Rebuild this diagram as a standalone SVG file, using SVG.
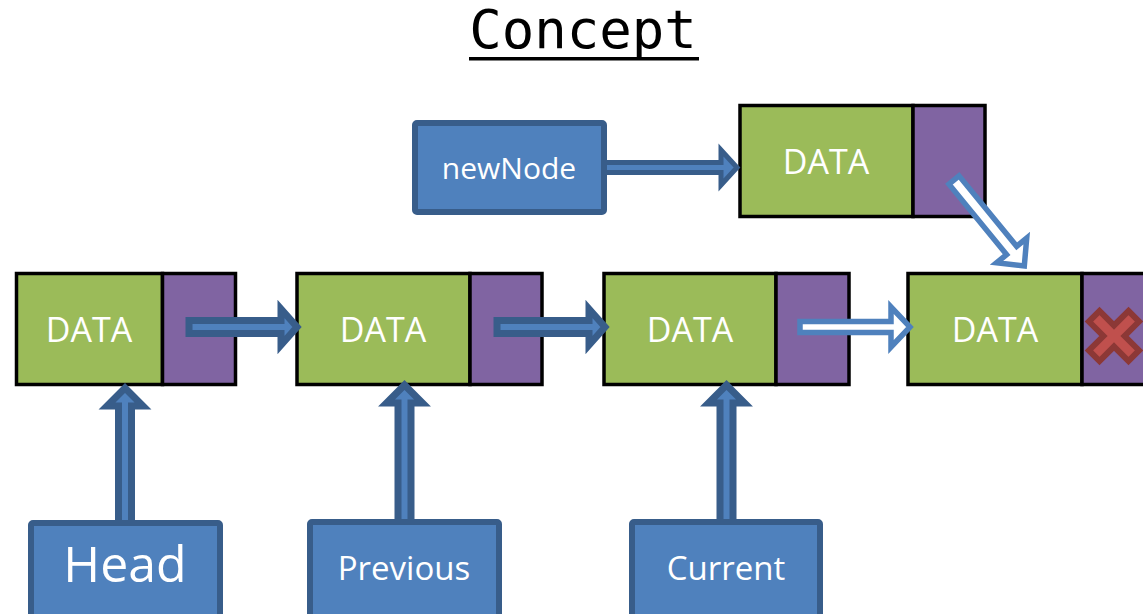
<svg xmlns="http://www.w3.org/2000/svg" width="1143" height="614" viewBox="0 0 1143 614">
<style>
.g{fill:#9BBB59;stroke:#000;stroke-width:3.5}
.p{fill:#8064A2;stroke:#000;stroke-width:3.5}
.box{fill:#4F81BD;stroke:#385D8A;stroke-width:6}
.t{font-family:"Open Sans","Liberation Sans",sans-serif;fill:#fff;text-anchor:middle}
.da{fill:#4F81BD;stroke:#385D8A;stroke-width:7;stroke-linejoin:miter;stroke-miterlimit:3}
.wa{fill:#fff;stroke:#4F81BD;stroke-width:5.5;stroke-linejoin:miter;stroke-miterlimit:3}
</style>
<rect width="1143" height="614" fill="#fff"/>
<g id="title">
<text x="583" y="48" font-family="DejaVu Sans Mono, Liberation Mono, monospace" font-size="54" text-anchor="middle" fill="#000">Concept</text>
<rect x="469" y="57" width="230" height="3.5" fill="#000"/>
</g>
<g id="node1">
<rect class="g" x="16.5" y="273.5" width="146" height="111"/>
<rect class="p" x="162.5" y="273.5" width="73" height="111"/>
<text class="t" x="89" y="342" font-size="34">DATA</text>
</g>
<g id="node2">
<rect class="g" x="297" y="273.5" width="173" height="111"/>
<rect class="p" x="470" y="273.5" width="72" height="111"/>
<text class="t" x="383" y="342" font-size="34">DATA</text>
</g>
<g id="node3">
<rect class="g" x="604" y="273.5" width="172" height="111"/>
<rect class="p" x="776" y="273.5" width="73" height="111"/>
<text class="t" x="690" y="342" font-size="34">DATA</text>
</g>
<g id="node4">
<rect class="g" x="908" y="273.5" width="174" height="111"/>
<rect class="p" x="1082" y="273.5" width="80" height="111"/>
<text class="t" x="995" y="342" font-size="34">DATA</text>
<g transform="translate(1114 336) rotate(45)">
<path d="M-7.5,-28 H7.5 V-7.5 H28 V7.5 H7.5 V28 H-7.5 V7.5 H-28 V-7.5 H-7.5 Z" fill="#C0504D" stroke="#8C3836" stroke-width="6"/>
</g>
</g>
<g id="nodeNew">
<rect class="g" x="740" y="105.5" width="173" height="111"/>
<rect class="p" x="913" y="105.5" width="72" height="111"/>
<text class="t" x="826" y="174" font-size="34">DATA</text>
</g>
<g id="connectors">
<path class="da" d="M189,320.5 H281 V309 L297,327 L281,345 V333.5 H189 Z"/>
<path class="da" d="M497,320.5 H589 V309 L605,327 L589,345 V333.5 H497 Z"/>
<path class="wa" d="M800,321.5 H891 V307 L910,327 L891,347 V332.5 H800 Z"/>
<path class="da" style="stroke-width:5" d="M600,162.5 H721 V150 L737,167.5 L721,185 V172.5 H600 Z"/>
<path class="wa" transform="translate(954 180) rotate(50.7)" d="M0,-6.5 H91 V-19.5 L111,0 L91,19.5 V6.5 H0 Z"/>
<path class="da" d="M118.5,525 V406 H107 L125,388 L143,406 H131.5 V525 Z"/>
<path class="da" d="M398,525 V403 H386.5 L404.5,385 L422.5,403 H411 V525 Z"/>
<path class="da" d="M720,525 V403 H708.5 L726.5,385 L744.5,403 H733 V525 Z"/>
</g>
<g id="newNode">
<rect class="box" x="415" y="123" width="189" height="89" rx="2"/>
<text class="t" x="509" y="179" font-size="30">newNode</text>
</g>
<g id="head">
<rect class="box" x="31" y="523" width="189" height="100" rx="2"/>
<text class="t" x="125" y="582" font-size="50">Head</text>
</g>
<g id="previous">
<rect class="box" x="310" y="522" width="189" height="100" rx="2"/>
<text class="t" x="404" y="580" font-size="33">Previous</text>
</g>
<g id="current">
<rect class="box" x="632" y="522" width="188" height="100" rx="2"/>
<text class="t" x="726" y="580" font-size="33">Current</text>
</g>
</svg>
